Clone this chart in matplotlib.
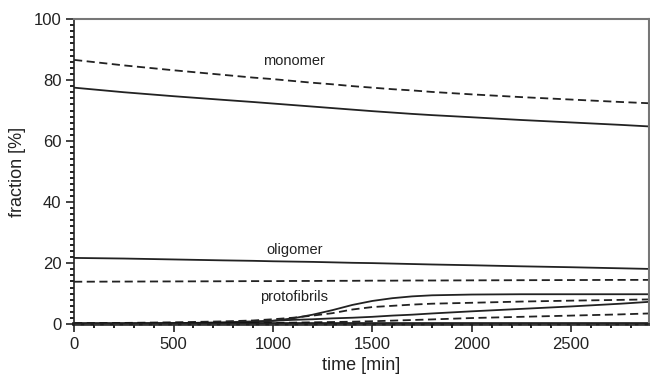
import numpy as np
import matplotlib.pyplot as plt
from matplotlib.ticker import MultipleLocator

plt.rcParams['font.family'] = ['Liberation Sans', 'DejaVu Sans']

# time grid (min)
t = [0, 250, 500, 750, 900, 1000, 1100, 1200, 1300, 1400, 1500,
     1600, 1700, 1800, 2000, 2250, 2500, 2750, 2890]

# fractions [%], solid = model A, dashed = model B
monomer_solid = [77.5, 76.0, 74.7, 73.5, 72.8, 72.3, 71.8, 71.3, 70.8, 70.3, 69.8,
                 69.35, 68.9, 68.5, 67.8, 66.9, 66.1, 65.3, 64.8]
monomer_dash = [86.6, 84.8, 83.2, 81.7, 80.8, 80.3, 79.7, 79.1, 78.6, 78.0, 77.5,
                77.0, 76.6, 76.1, 75.3, 74.4, 73.6, 72.8, 72.4]
oligomer_solid = [21.7, 21.5, 21.2, 20.9, 20.75, 20.6, 20.5, 20.4, 20.25, 20.1, 20.0,
                  19.85, 19.7, 19.55, 19.3, 18.95, 18.65, 18.3, 18.1]
oligomer_dash = [13.9, 13.95, 14.0, 14.05, 14.1, 14.1, 14.15, 14.15, 14.2, 14.2, 14.25,
                 14.25, 14.3, 14.3, 14.35, 14.4, 14.45, 14.5, 14.5]
proto_solid = [0.0, 0.05, 0.15, 0.4, 0.7, 1.1, 1.9, 3.1, 4.6, 6.3, 7.6,
               8.5, 9.1, 9.45, 9.7, 9.8, 9.8, 9.8, 9.8]
proto_dash = [0.3, 0.4, 0.6, 0.9, 1.2, 1.6, 2.1, 2.8, 3.6, 4.8, 5.6,
              6.0, 6.4, 6.7, 7.0, 7.4, 7.7, 7.95, 8.1]
proto2_solid = [0.0, 0.1, 0.3, 0.6, 0.9, 1.1, 1.4, 1.6, 1.9, 2.1, 2.4,
                2.8, 3.1, 3.5, 4.2, 5.0, 5.8, 6.7, 7.3]
proto2_dash = [0.0, 0.05, 0.1, 0.2, 0.3, 0.4, 0.5, 0.6, 0.7, 0.8, 0.95,
               1.15, 1.35, 1.55, 2.0, 2.4, 2.8, 3.2, 3.5]
fibril_solid = [0.05] * len(t)
fibril_dash = [0.0] * len(t)

fig = plt.figure(figsize=(6.5, 3.8), dpi=100)
ax = fig.add_axes([0.114, 0.147, 0.884, 0.803])

dash = (0, (4.5, 2.5))
lw = 1.3
ax.plot(t, monomer_dash, color='#222222', lw=lw, ls=dash)
ax.plot(t, monomer_solid, color='#222222', lw=lw)
ax.plot(t, oligomer_solid, color='#222222', lw=lw)
ax.plot(t, oligomer_dash, color='#222222', lw=lw, ls=dash)
ax.plot(t, proto_solid, color='#222222', lw=lw)
ax.plot(t, proto_dash, color='#222222', lw=lw, ls=dash)
ax.plot(t, proto2_solid, color='#222222', lw=lw)
ax.plot(t, proto2_dash, color='#222222', lw=lw, ls=dash)
ax.plot(t, fibril_solid, color='#111111', lw=2.6, clip_on=False)
ax.plot(t, fibril_dash, color='#888888', lw=1.0, ls=dash, clip_on=False)

ax.text(1107, 86.3, 'monomer', fontsize=10.5, ha='center', va='center', color='#222222')
ax.text(1107, 24.4, 'oligomer', fontsize=10.5, ha='center', va='center', color='#222222')
ax.text(1107, 8.9, 'protofibrils', fontsize=10.5, ha='center', va='center', color='#222222')

ax.set_xlim(0, 2890)
ax.set_ylim(0, 100)
ax.xaxis.set_major_locator(MultipleLocator(500))
ax.xaxis.set_minor_locator(MultipleLocator(100))
ax.yaxis.set_major_locator(MultipleLocator(20))
ax.yaxis.set_minor_locator(MultipleLocator(2))
ax.tick_params(which='major', direction='out', length=6, width=1.2, labelsize=12,
               colors='#222222', pad=3)
ax.tick_params(which='minor', direction='out', length=3, width=1.4, colors='#222222')

for side in ['left', 'bottom']:
    ax.spines[side].set_color('#222222')
    ax.spines[side].set_linewidth(1.2)
for side in ['top', 'right']:
    ax.spines[side].set_color('#777777')
    ax.spines[side].set_linewidth(1.5)

ax.set_xlabel('time [min]', fontsize=13, color='#222222', labelpad=4)
ax.set_ylabel('fraction [%]', fontsize=13, color='#222222', labelpad=6)

fig.savefig('out.png', dpi=100)
